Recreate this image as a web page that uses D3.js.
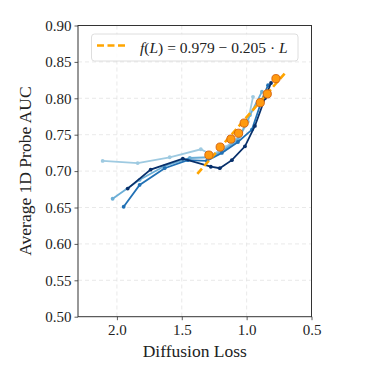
<!DOCTYPE html>
<html>
<head>
<meta charset="utf-8">
<script src="https://cdn.jsdelivr.net/npm/d3@7"></script>
<style>
  body { margin: 0; background: #fff; }
  text { font-family: "Liberation Serif", "DejaVu Serif", serif; fill: #222; }
</style>
</head>
<body>
<div id="container"></div>
<script>
/* DATA */
const seriesColors = ["#9ecae1", "#6baed6", "#2171b5", "#08306b"];

const lossLight = [2.11, 1.84, 1.593, 1.353, 1.268, 1.16, 1.052, 0.99, 0.951];
const aucLight  = [0.714, 0.711, 0.719, 0.730, 0.722, 0.733, 0.748, 0.768, 0.802];

const lossMid = [2.033, 1.825, 1.632, 1.438, 1.284, 1.175, 1.067, 0.974, 0.882];
const aucMid  = [0.662, 0.688, 0.707, 0.718, 0.719, 0.729, 0.743, 0.777, 0.809];

const lossBlue = [1.948, 1.825, 1.632, 1.454, 1.307, 1.191, 1.067, 0.959, 0.882, 0.835];
const aucBlue  = [0.651, 0.681, 0.704, 0.715, 0.714, 0.725, 0.740, 0.757, 0.798, 0.818];

const lossNavy = [1.917, 1.740, 1.492, 1.276, 1.207, 1.114, 1.013, 0.936, 0.859, 0.812];
const aucNavy  = [0.676, 0.702, 0.717, 0.706, 0.704, 0.715, 0.734, 0.762, 0.800, 0.821];

const fitLoss = [1.291, 1.204, 1.121, 1.062, 1.019, 0.895, 0.841, 0.774];
const fitAuc  = [0.722, 0.733, 0.744, 0.752, 0.766, 0.794, 0.806, 0.827];

const fitIntercept = 0.979, fitSlope = -0.205;
const fitRange = [1.38, 0.70];

const xTicks = [2.0, 1.5, 1.0, 0.5];
const yTicks = [0.50, 0.55, 0.60, 0.65, 0.70, 0.75, 0.80, 0.85, 0.90];

/* CONSTANTS */
const width = 381, height = 381,
  margin = { top: 25.5, bottom: 64.3, left: 78, right: 69.5 };

const lossArrays = [lossLight, lossMid, lossBlue, lossNavy];
const aucArrays = [aucLight, aucMid, aucBlue, aucNavy];
const series = lossArrays.map((ls, i) => ls.map((l, j) => ({ loss: l, auc: aucArrays[i][j] })));

// SCALES
const xScale = d3.scaleLinear()
  .domain([2.3, 0.5])
  .range([margin.left, width - margin.right]);

const yScale = d3.scaleLinear()
  .domain([0.5, 0.9])
  .range([height - margin.bottom, margin.top]);

// SVG
const svg = d3.select("#container")
  .append("svg")
  .attr("width", width)
  .attr("height", height);

// GRID
svg.append("g")
  .selectAll("line")
  .data(xTicks.filter(t => t > 0.5))
  .join("line")
  .attr("x1", d => xScale(d)).attr("x2", d => xScale(d))
  .attr("y1", margin.top).attr("y2", height - margin.bottom)
  .attr("stroke", "#e3e3e3").attr("stroke-width", 0.8)
  .attr("stroke-dasharray", "4,3");

svg.append("g")
  .selectAll("line")
  .data(yTicks.slice(1, -1))
  .join("line")
  .attr("x1", margin.left).attr("x2", width - margin.right)
  .attr("y1", d => yScale(d)).attr("y2", d => yScale(d))
  .attr("stroke", "#e3e3e3").attr("stroke-width", 0.8)
  .attr("stroke-dasharray", "4,3");

// AXES
const xAxis = d3.axisBottom(xScale).tickValues(xTicks).tickFormat(d3.format(".1f")).tickSizeOuter(0).tickSize(3.5).tickPadding(4);
const yAxis = d3.axisLeft(yScale).tickValues(yTicks).tickFormat(d3.format(".2f")).tickSizeOuter(0).tickSize(3.5).tickPadding(3);

const xAxisGroup = svg.append("g")
  .attr("transform", `translate(0, ${height - margin.bottom})`)
  .call(xAxis);
const yAxisGroup = svg.append("g")
  .attr("transform", `translate(${margin.left}, 0)`)
  .call(yAxis);

[xAxisGroup, yAxisGroup].forEach(g => {
  g.select(".domain").remove();
  g.selectAll(".tick line").attr("stroke", "#333").attr("stroke-width", 0.8);
  g.selectAll(".tick text").attr("font-size", 15).attr("fill", "#222")
    .style("font-family", "'Liberation Serif', serif");
});

// FRAME
svg.append("rect")
  .attr("x", margin.left).attr("y", margin.top)
  .attr("width", width - margin.left - margin.right)
  .attr("height", height - margin.top - margin.bottom)
  .attr("fill", "none").attr("stroke", "#333").attr("stroke-width", 1);

// SERIES
const line = d3.line().x(d => xScale(d.loss)).y(d => yScale(d.auc));

series.forEach((s, i) => {
  svg.append("path")
    .datum(s)
    .attr("fill", "none")
    .attr("stroke", seriesColors[i])
    .attr("stroke-width", 1.8)
    .attr("d", line);
  svg.append("g")
    .selectAll("circle")
    .data(s)
    .join("circle")
    .attr("cx", d => xScale(d.loss))
    .attr("cy", d => yScale(d.auc))
    .attr("r", 1.9)
    .attr("fill", seriesColors[i]);
});

// FIT LINE
svg.append("path")
  .datum(fitRange.map(l => ({ loss: l, auc: fitIntercept + fitSlope * l })))
  .attr("fill", "none")
  .attr("stroke", "#ffa500")
  .attr("stroke-width", 2.6)
  .attr("stroke-dasharray", "7,3.5")
  .attr("d", line);

svg.append("g")
  .selectAll("circle")
  .data(fitLoss.map((l, i) => ({ loss: l, auc: fitAuc[i] })))
  .join("circle")
  .attr("cx", d => xScale(d.loss))
  .attr("cy", d => yScale(d.auc))
  .attr("r", 4.1)
  .attr("fill", "#ff9a10")
  .attr("stroke", "#d4600a")
  .attr("stroke-width", 0.9);

// LEGEND
const legend = svg.append("g");
legend.append("rect")
  .attr("x", 91.5).attr("y", 34)
  .attr("width", 206.5).attr("height", 27)
  .attr("rx", 3)
  .attr("fill", "#fff").attr("fill-opacity", 0.85)
  .attr("stroke", "#d6d6d6").attr("stroke-width", 0.8);
legend.append("line")
  .attr("x1", 97).attr("x2", 127).attr("y1", 45.5).attr("y2", 45.5)
  .attr("stroke", "#ffa500").attr("stroke-width", 2.6)
  .attr("stroke-dasharray", "7,3.5");
const lt = legend.append("text")
  .attr("x", 140).attr("y", 52.5)
  .attr("font-size", 15.5);
lt.append("tspan").attr("font-style", "italic").text("f");
lt.append("tspan").text("(");
lt.append("tspan").attr("font-style", "italic").text("L");
lt.append("tspan").text(`) = ${fitIntercept} − ${Math.abs(fitSlope)} · `);
lt.append("tspan").attr("font-style", "italic").text("L");

// AXIS LABELS
svg.append("text")
  .attr("x", (margin.left + width - margin.right) / 2)
  .attr("y", 357)
  .attr("text-anchor", "middle")
  .attr("font-size", 17.5)
  .text("Diffusion Loss");

svg.append("text")
  .attr("transform", `translate(31, ${(margin.top + height - margin.bottom) / 2}) rotate(-90)`)
  .attr("text-anchor", "middle")
  .attr("font-size", 17.5)
  .text("Average 1D Probe AUC");
</script>
</body>
</html>
